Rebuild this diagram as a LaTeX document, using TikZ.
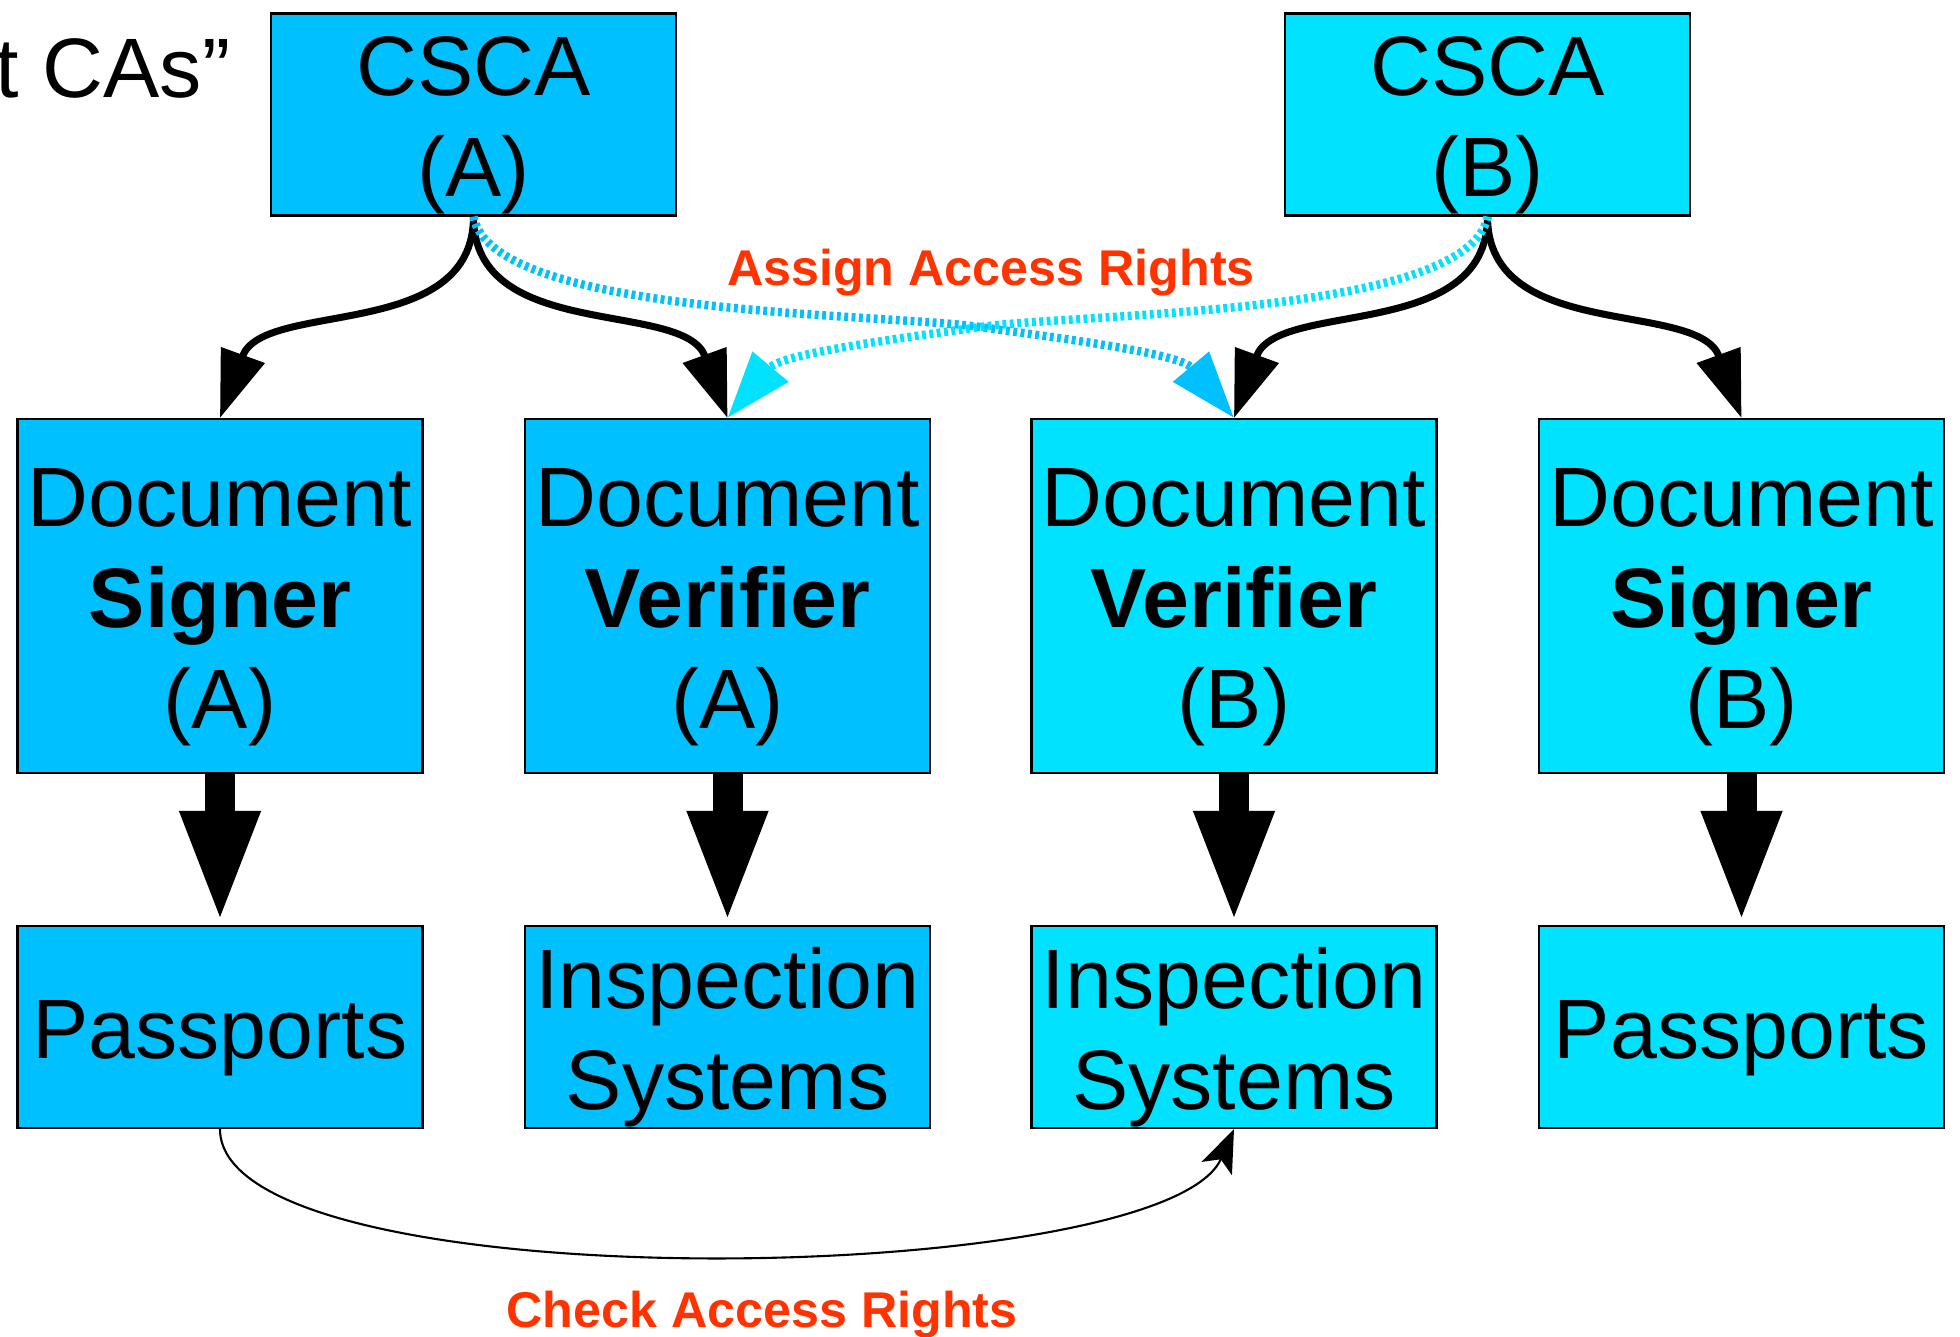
\documentclass[tikz,border=0pt]{standalone}
\usepackage{fontspec}
\setmainfont{Liberation Sans}
\usetikzlibrary{arrows.meta,positioning}
\definecolor{caA}{RGB}{0,192,255}
\definecolor{caB}{RGB}{0,226,255}
\definecolor{rights}{RGB}{255,51,0}
\newcommand{\topgap}{\rule{0pt}{23pt}}

\begin{document}
\begin{tikzpicture}[
    box/.style={draw, line width=0.6pt, minimum width=4.05cm, align=center, inner sep=0pt,
        font=\fontsize{24}{28.8}\selectfont},
    tall/.style={box, minimum height=3.54cm},
    flat/.style={box, minimum height=2.02cm},
    issue/.style={-{Triangle[length=6.7mm,width=4.5mm]}, line width=2pt},
    assign/.style={-{Triangle[length=6.7mm,width=4.5mm]}, line width=2.4pt, dash pattern=on 1.1pt off 1pt},
    feed/.style={-{Triangle[length=11.4mm,width=7.2mm]}, line width=3mm},
    check/.style={-{Stealth[length=4.3mm,width=3.3mm,inset=1mm]}, line width=0.6pt},
    note/.style={text=rights, anchor=base, inner sep=0pt, font=\fontsize{14.3}{17}\selectfont\bfseries}
]
    \useasboundingbox (0,0) rectangle (19.6,-13.36);
    \node[anchor=base east, inner sep=0pt, font=\fontsize{24}{28.8}\selectfont] (root) at (2.31,-0.975) {t CAs”};

    % certificate authorities
    \node[flat, fill=caA] (cscaA) at (4.735,-1.145) {\topgap CSCA\\(A)};
    \node[flat, fill=caB] (cscaB) at (14.875,-1.145) {\topgap CSCA\\(B)};

    % signers and verifiers
    \node[tall, fill=caA] (dsA) at (2.2,-5.96) {\topgap Document\\\textbf{Signer}\\(A)};
    \node[tall, fill=caA] (dvA) at (7.275,-5.96) {\topgap Document\\\textbf{Verifier}\\(A)};
    \node[tall, fill=caB] (dvB) at (12.34,-5.96) {\topgap Document\\\textbf{Verifier}\\(B)};
    \node[tall, fill=caB] (dsB) at (17.415,-5.96) {\topgap Document\\\textbf{Signer}\\(B)};

    % end entities
    \node[flat, fill=caA] (ppA) at (2.2,-10.27) {\topgap Passports};
    \node[flat, fill=caA] (isA) at (7.275,-10.27) {\topgap Inspection\\Systems};
    \node[flat, fill=caB] (isB) at (12.34,-10.27) {\topgap Inspection\\Systems};
    \node[flat, fill=caB] (ppB) at (17.415,-10.27) {\topgap Passports};

    \draw[issue] (cscaA.south) to[out=-90,in=70] (dsA.north);
    \draw[issue] (cscaA.south) to[out=-90,in=110] (dvA.north);
    \draw[issue] (cscaB.south) to[out=-90,in=70] (dvB.north);
    \draw[issue] (cscaB.south) to[out=-90,in=110] (dsB.north);

    \coordinate (cross) at (9.8,-3.27);
    \draw[assign, caA] (cscaA.south) to[out=-80,in=172,looseness=0.5] (cross) to[out=-8,in=130,looseness=0.8] (dvB.north);
    \draw[assign, caB] (cscaB.south) to[out=-100,in=8,looseness=0.5] (cross) to[out=188,in=50,looseness=0.8] (dvA.north);
    \node[note] (assign) at (9.91,-2.85) {Assign Access Rights};

    \draw[feed] (dsA.south) -- (ppA.north);
    \draw[feed] (dvA.south) -- (isA.north);
    \draw[feed] (dvB.south) -- (isB.north);
    \draw[feed] (dsB.south) -- (ppB.north);

    \draw[check] (ppA.south) .. controls +(0,-1.75) and +(-0.7,-1.6) .. (isB.south);
    \node[note] (checknote) at (7.62,-13.275) {Check Access Rights};
\end{tikzpicture}
\end{document}
